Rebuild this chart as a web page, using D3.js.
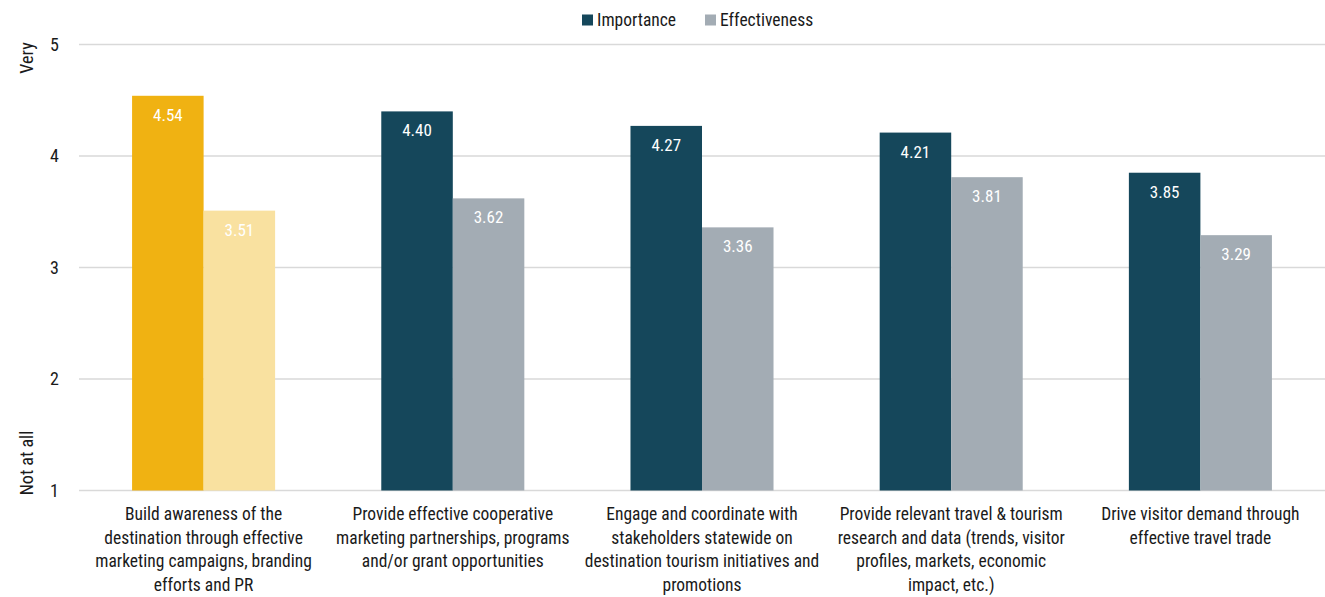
<!DOCTYPE html>
<html>
<head>
<meta charset="utf-8">
<script src="https://cdn.jsdelivr.net/npm/d3@7"></script>
<style>
  html, body { margin: 0; padding: 0; background: #fff; }
  svg text { font-family: "Liberation Sans Narrow", "Arial Narrow", "Roboto Condensed", sans-serif; }
</style>
</head>
<body>
<svg id="chart" width="1325" height="597"></svg>
<script>
// Category labels, one entry per line of the wrapped label
const categories = [
  ["Build awareness of the", "destination through effective", "marketing campaigns, branding", "efforts and PR"],
  ["Provide effective cooperative", "marketing partnerships, programs", "and/or grant opportunities"],
  ["Engage and coordinate with", "stakeholders statewide on", "destination tourism initiatives and", "promotions"],
  ["Provide relevant travel & tourism", "research and data (trends, visitor", "profiles, markets, economic", "impact, etc.)"],
  ["Drive visitor demand through", "effective travel trade"]
];
const series = ["Importance", "Effectiveness"];
const importance = [4.54, 4.40, 4.27, 4.21, 3.85];
const effectiveness = [3.51, 3.62, 3.36, 3.81, 3.29];
const yTicks = [1, 2, 3, 4, 5];

const seriesColors = { Importance: "#15475B", Effectiveness: "#A3ACB4" };
const highlightColors = { Importance: "#F0B212", Effectiveness: "#F9E1A0" };

const svg = d3.select("#chart");
const plotLeft = 79, plotRight = 1325, plotTop = 44.5, plotBottom = 490.5;

const idx = d3.range(categories.length);
const x0 = d3.scaleBand().domain(idx).range([plotLeft, plotRight]).paddingInner(0.426).paddingOuter(0.213);
const x1 = d3.scaleBand().domain(series).range([0, x0.bandwidth()]);
const y = d3.scaleLinear().domain([1, 5]).range([plotBottom, plotTop]);

// Horizontal gridlines
svg.append("g").selectAll("line").data(yTicks).join("line")
  .attr("x1", plotLeft).attr("x2", plotRight)
  .attr("y1", d => y(d)).attr("y2", d => y(d))
  .attr("stroke", "#D9D9D9").attr("stroke-width", 1.5);

// Y axis tick labels
const yAxis = d3.axisLeft(y).tickValues(yTicks).tickFormat(d3.format("d")).tickSize(0).tickPadding(0);
const gy = svg.append("g").attr("transform", `translate(${plotLeft - 20},0)`).call(yAxis);
gy.select(".domain").remove();
gy.selectAll("text").attr("font-size", 18).attr("fill", "#1a1a1a")
  .attr("font-family", "\"Liberation Sans Narrow\", \"Arial Narrow\", sans-serif");

// Y axis end titles
svg.append("text").attr("transform", "translate(33,58) rotate(-90)")
  .attr("text-anchor", "middle").attr("font-size", 18).attr("fill", "#1a1a1a").text("Very");
svg.append("text").attr("transform", "translate(33,463) rotate(-90)")
  .attr("text-anchor", "middle").attr("font-size", 18).attr("fill", "#1a1a1a").text("Not at all");

// Bars
const rows = idx.map(i => ({ i, values: [
  { key: "Importance", value: importance[i] },
  { key: "Effectiveness", value: effectiveness[i] }
]}));

const groups = svg.append("g").selectAll("g").data(rows).join("g")
  .attr("transform", d => `translate(${x0(d.i)},0)`);

groups.selectAll("rect").data(d => d.values.map(v => ({ ...v, i: d.i }))).join("rect")
  .attr("x", d => x1(d.key))
  .attr("width", x1.bandwidth())
  .attr("y", d => y(d.value))
  .attr("height", d => y(1) - y(d.value))
  .attr("fill", d => d.i === 0 ? highlightColors[d.key] : seriesColors[d.key]);

groups.selectAll("text.val").data(d => d.values).join("text")
  .attr("class", "val")
  .attr("x", d => x1(d.key) + x1.bandwidth() / 2)
  .attr("y", d => y(d.value) + 25)
  .attr("text-anchor", "middle")
  .attr("font-size", 17)
  .attr("fill", "#fff")
  .text(d => d.value.toFixed(2));

// Category labels
const xl = svg.append("g").selectAll("text").data(idx).join("text")
  .attr("x", i => x0(i) + x0.bandwidth() / 2)
  .attr("y", 520)
  .attr("text-anchor", "middle")
  .attr("font-size", 17.5)
  .attr("fill", "#1a1a1a");
xl.selectAll("tspan").data(i => categories[i]).join("tspan")
  .attr("x", function() { return this.parentNode.getAttribute("x"); })
  .attr("dy", (d, j) => j === 0 ? 0 : 23.7)
  .text(d => d);

// Legend
const legend = svg.append("g");
const legendX = [582, 705];
series.forEach((s, j) => {
  legend.append("rect").attr("x", legendX[j]).attr("y", 14.5).attr("width", 11).attr("height", 11)
    .attr("fill", seriesColors[s]);
  legend.append("text").attr("x", legendX[j] + 15).attr("y", 26)
    .attr("font-size", 17.5).attr("fill", "#1a1a1a").text(s);
});
</script>
</body>
</html>
